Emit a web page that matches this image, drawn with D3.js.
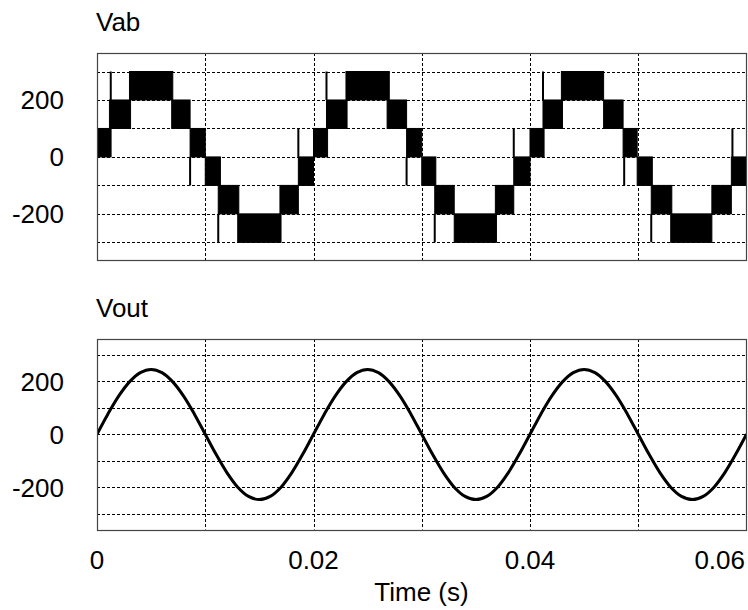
<!DOCTYPE html>
<html>
<head>
<meta charset="utf-8">
<script src="https://cdn.jsdelivr.net/npm/d3@7"></script>
<style>
  body { margin: 0; background: #fff; }
  text { font-family: 'Liberation Sans', Arial, sans-serif; fill: #000; }
</style>
</head>
<body>
<div id="chart"></div>
<script>
// Vab bands: [t start, t end, low level, high level] (PWM fills the band)
var vabBands = [
  [0.0000, 0.0013, 0, 100], [0.00115, 0.0031, 100, 200], [0.0030, 0.0070, 200, 300],
  [0.0069, 0.0086, 100, 200], [0.0086, 0.0100, 0, 100], [0.0100, 0.0114, -100, 0],
  [0.0112, 0.0131, -200, -100], [0.0130, 0.0170, -300, -200], [0.0169, 0.0186, -200, -100],
  [0.0186, 0.0200, -100, 0],
  [0.0200, 0.0213, 0, 100], [0.0212, 0.0231, 100, 200], [0.0230, 0.0270, 200, 300],
  [0.0268, 0.0286, 100, 200], [0.0286, 0.0300, 0, 100], [0.0300, 0.0313, -100, 0],
  [0.0312, 0.0330, -200, -100], [0.0330, 0.0369, -300, -200], [0.0368, 0.0385, -200, -100],
  [0.0385, 0.0400, -100, 0],
  [0.0400, 0.0413, 0, 100], [0.0412, 0.0430, 100, 200], [0.0429, 0.0468, 200, 300],
  [0.0468, 0.0486, 100, 200], [0.0486, 0.0499, 0, 100], [0.0499, 0.0513, -100, 0],
  [0.0512, 0.0531, -200, -100], [0.0530, 0.0568, -300, -200], [0.0568, 0.0586, -200, -100],
  [0.0586, 0.0600, -100, 0]
];
// narrow spikes at level changes: [t, from, to]
var vabSpikes = [
  [0.00127, 200, 300], [0.0086, -100, 0], [0.0112, -300, -200], [0.0186, 0, 100],
  [0.0212, 200, 300], [0.0286, -100, 0], [0.0312, -300, -200], [0.0385, 0, 100],
  [0.0412, 200, 300], [0.0487, -100, 0], [0.0512, -300, -200], [0.0587, 0, 100]
];
// Vout read every 1 ms
var voutTime = d3.range(61).map(function(i){ return i / 1000; });
var voutValues = [
  0, 76, 144, 198, 233, 245, 233, 198, 144, 76,
  0, -76, -145, -200, -235, -247, -235, -200, -145, -76,
  0, 76, 144, 198, 233, 245, 233, 198, 144, 76,
  0, -76, -145, -200, -235, -247, -235, -200, -145, -76,
  0, 76, 144, 198, 233, 245, 233, 198, 144, 76,
  0, -76, -145, -200, -235, -247, -235, -200, -145, -76,
  0
];
var xTicks = [0, 0.02, 0.04, 0.06];
var xGrid = [0.01, 0.02, 0.03, 0.04, 0.05];
var yTicks = [-200, 0, 200];
var yGrid = [-300, -200, -100, 0, 100, 200, 300];

var width = 748, height = 610;
var fontSize = 26;

var svg = d3.select("#chart")
  .append("svg")
  .attr("width", width)
  .attr("height", height);

var x = d3.scaleLinear().domain([0, 0.06]).range([97, 746.5]);

var panels = [
  {name: "Vab", top: 53, bottom: 260, domain: [-362, 365]},
  {name: "Vout", top: 339, bottom: 529.5, domain: [-360, 360]}
];

panels.forEach(function(p, idx){
  p.y = d3.scaleLinear().domain(p.domain).range([p.bottom, p.top]);
  var g = svg.append("g").attr("class", "panel_" + p.name);

  g.append("clipPath").attr("id", "clip" + idx)
    .append("rect")
    .attr("x", 97).attr("y", p.top)
    .attr("width", 650).attr("height", p.bottom - p.top);

  // grid
  g.selectAll(".hgrid")
    .data(yGrid)
    .enter()
    .append("line")
    .attr("x1", 97).attr("x2", 747)
    .attr("y1", function(d){ return Math.round(p.y(d)) + 0.5; })
    .attr("y2", function(d){ return Math.round(p.y(d)) + 0.5; })
    .attr("stroke", "#000")
    .attr("stroke-width", 1)
    .attr("stroke-dasharray", "3,2");

  g.selectAll(".vgrid")
    .data(xGrid)
    .enter()
    .append("line")
    .attr("x1", function(d){ return Math.round(x(d)) + 0.5; })
    .attr("x2", function(d){ return Math.round(x(d)) + 0.5; })
    .attr("y1", p.top).attr("y2", p.bottom)
    .attr("stroke", "#000")
    .attr("stroke-width", 1)
    .attr("stroke-dasharray", "3,2");

  // y tick labels
  g.selectAll(".ylab")
    .data(yTicks)
    .enter()
    .append("text")
    .attr("x", 64)
    .attr("y", function(d){ return p.y(d); })
    .attr("dy", "0.36em")
    .attr("text-anchor", "end")
    .attr("font-size", fontSize)
    .text(function(d){ return d; });

  // title
  g.append("text")
    .attr("x", 96)
    .attr("y", p.top - 22)
    .attr("font-size", fontSize)
    .text(p.name);

  p.plot = g.append("g").attr("clip-path", "url(#clip" + idx + ")");

  p.frame = g;
});

// Vab
var vab = panels[0];
vab.plot.selectAll(".band")
  .data(vabBands)
  .enter()
  .append("rect")
  .attr("x", function(d){ return x(d[0]); })
  .attr("width", function(d){ return x(d[1]) - x(d[0]); })
  .attr("y", function(d){ return vab.y(d[3]); })
  .attr("height", function(d){ return vab.y(d[2]) - vab.y(d[3]); })
  .attr("fill", "#000")
  .attr("stroke", "#000")
  .attr("stroke-width", 1);

vab.plot.selectAll(".spike")
  .data(vabSpikes)
  .enter()
  .append("line")
  .attr("x1", function(d){ return x(d[0]); })
  .attr("x2", function(d){ return x(d[0]); })
  .attr("y1", function(d){ return vab.y(d[1]); })
  .attr("y2", function(d){ return vab.y(d[2]); })
  .attr("stroke", "#000")
  .attr("stroke-width", 2);

// Vout
var vout = panels[1];
var line = d3.line()
  .x(function(d, i){ return x(voutTime[i]); })
  .y(function(d){ return vout.y(d); })
  .curve(d3.curveCatmullRom);

vout.plot.append("path")
  .attr("d", line(voutValues))
  .attr("fill", "none")
  .attr("stroke", "#000")
  .attr("stroke-width", 3);

// frames on top
panels.forEach(function(p){
  p.frame.append("rect")
    .attr("x", 97.5).attr("y", Math.round(p.top) + 0.5)
    .attr("width", 649).attr("height", Math.round(p.bottom - p.top))
    .attr("fill", "none")
    .attr("stroke", "#444")
    .attr("stroke-width", 1.2);
});

// x axis labels
svg.selectAll(".xlab")
  .data(xTicks)
  .enter()
  .append("text")
  .attr("x", function(d){ return d == 0.06 ? 745 : x(d); })
  .attr("y", 569)
  .attr("text-anchor", function(d){ return d == 0.06 ? "end" : "middle"; })
  .attr("font-size", fontSize)
  .text(function(d){ return d; });

svg.append("text")
  .attr("x", 421.5)
  .attr("y", 601)
  .attr("text-anchor", "middle")
  .attr("font-size", fontSize)
  .text("Time (s)");
</script>
</body>
</html>
